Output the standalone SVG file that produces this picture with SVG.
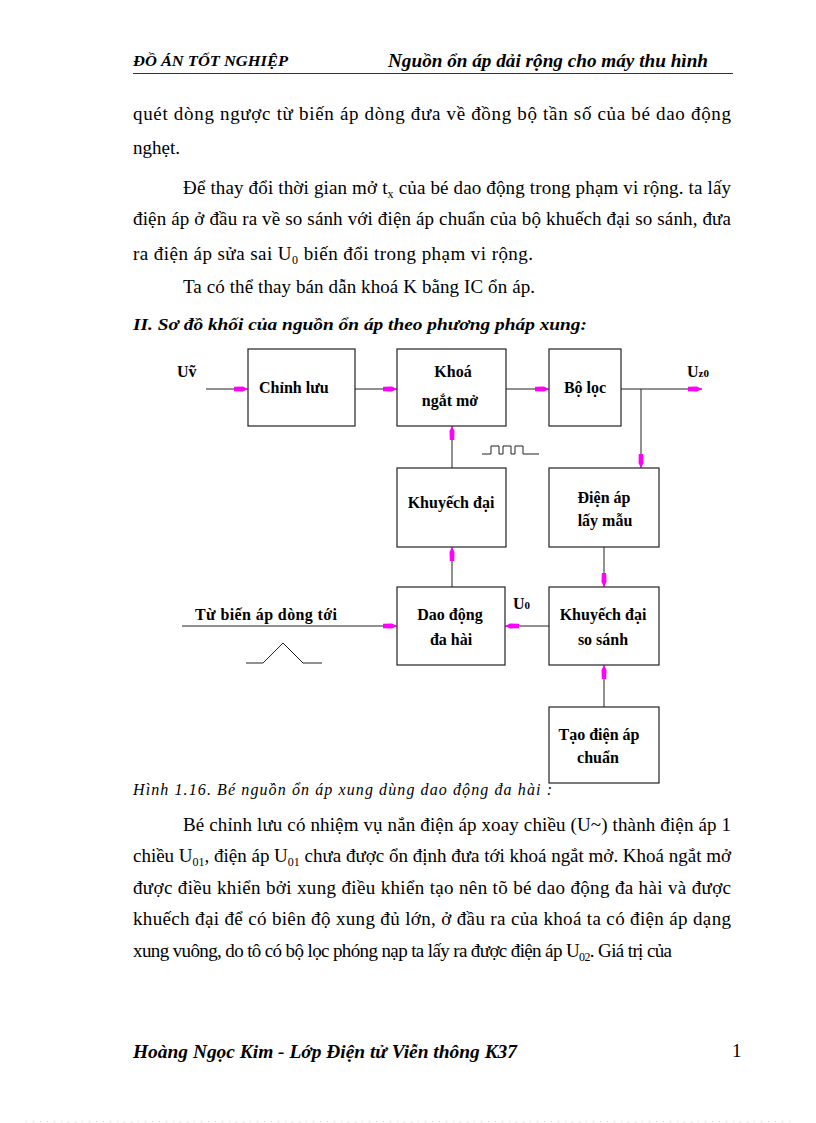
<svg xmlns="http://www.w3.org/2000/svg" width="816" height="1123" viewBox="0 0 816 1123">
<style>
.t{font-family:"Liberation Serif","Times New Roman",serif;fill:#000}
.b{font-size:19px}
.s{font-size:12px}
.hd{font-size:14px;font-style:italic;font-weight:bold}
.hr{font-size:18px;font-style:italic;font-weight:bold}
.h2{font-size:17px;font-style:italic;font-weight:bold}
.cap{font-size:16px;font-style:italic}
.ft{font-size:18px;font-style:italic;font-weight:bold}
.lb{font-size:16px;font-weight:bold}
.box{fill:#fff;stroke:#222;stroke-width:1.2}
.ln{stroke:#222;stroke-width:1;fill:none}
.ar{stroke:#222;stroke-width:1;fill:none;marker-end:url(#ah)}
</style>
<defs>
<marker id="ah" markerUnits="userSpaceOnUse" markerWidth="16" markerHeight="8" refX="14" refY="4" orient="auto">
<path d="M0,1.8 L9,1.5 L14,4 L9,6.5 L0,6.2 Z" fill="#ff00ff"/>
</marker>
</defs>
<rect width="816" height="1123" fill="#fff"/>

<!-- header -->
<text class="t hd" x="133" y="66" textLength="155" lengthAdjust="spacingAndGlyphs">ĐỒ ÁN TỐT NGHIỆP</text>
<text class="t hr" x="388" y="67" textLength="320" lengthAdjust="spacingAndGlyphs">Nguồn ổn áp dải rộng cho máy thu hình</text>
<line x1="133" y1="73.5" x2="733" y2="73.5" stroke="#333" stroke-width="1.2"/>

<!-- paragraph 1 -->
<text class="t b" x="133" y="120" textLength="598" lengthAdjust="spacing">quét dòng ngược từ biến áp dòng đưa về đồng bộ tần số của bé dao động</text>
<text class="t b" x="133" y="154">nghẹt.</text>
<text class="t b" x="183" y="194" textLength="548" lengthAdjust="spacing">Để thay đổi thời gian mở t<tspan class="s" dy="4">x</tspan><tspan dy="-4"> của bé dao động trong phạm vi rộng. ta lấy</tspan></text>
<text class="t b" x="133" y="225" textLength="598" lengthAdjust="spacing">điện áp ở đầu ra về so sánh với điện áp chuẩn của bộ khuếch đại so sánh, đưa</text>
<text class="t b" x="133" y="260" textLength="400" lengthAdjust="spacing">ra điện áp sửa sai U<tspan class="s" dy="4">0</tspan><tspan dy="-4"> biến đổi trong phạm vi rộng.</tspan></text>
<text class="t b" x="183" y="293" textLength="352" lengthAdjust="spacing">Ta có thể thay bán dẫn khoá K bằng IC ổn áp.</text>

<text class="t h2" x="133" y="330" textLength="454" lengthAdjust="spacingAndGlyphs">II. Sơ đồ khối của nguồn ổn áp theo phương pháp xung:</text>

<!-- diagram nodes -->
<g id="chinh-luu"><rect class="box" x="248" y="349" width="107" height="77"/><text class="t lb" x="259" y="393">Chỉnh lưu</text></g>
<g id="khoa"><rect class="box" x="397" y="349" width="109" height="77"/><text class="t lb" x="453" y="377" text-anchor="middle">Khoá</text><text class="t lb" x="450" y="406" text-anchor="middle">ngắt mở</text></g>
<g id="bo-loc"><rect class="box" x="549" y="349" width="72" height="77"/><text class="t lb" x="585" y="393" text-anchor="middle">Bộ lọc</text></g>
<g id="khuyech-dai"><rect class="box" x="397" y="468" width="109" height="79"/><text class="t lb" x="451" y="508" text-anchor="middle">Khuyếch đại</text></g>
<g id="dien-ap-lay-mau"><rect class="box" x="549" y="468" width="110" height="79"/><text class="t lb" x="604" y="503" text-anchor="middle">Điện áp</text><text class="t lb" x="605" y="526" text-anchor="middle">lấy mẫu</text></g>
<g id="dao-dong"><rect class="box" x="397" y="587" width="108" height="78"/><text class="t lb" x="450" y="620" text-anchor="middle">Dao động</text><text class="t lb" x="451" y="645" text-anchor="middle">đa hài</text></g>
<g id="khuyech-dai-so-sanh"><rect class="box" x="549" y="587" width="110" height="78"/><text class="t lb" x="603" y="620" text-anchor="middle">Khuyếch đại</text><text class="t lb" x="603" y="645" text-anchor="middle">so sánh</text></g>
<g id="tao-dien-ap-chuan"><rect class="box" x="549" y="707" width="110" height="76"/><text class="t lb" x="599" y="740" text-anchor="middle">Tạo điện áp</text><text class="t lb" x="598" y="763" text-anchor="middle">chuẩn</text></g>

<!-- labels -->
<g id="labels">
<text class="t lb" x="177" y="377">Uṽ</text>
<text class="t lb" x="687" y="377">U<tspan font-size="11">z0</tspan></text>
<text class="t lb" x="513" y="609">U<tspan font-size="11">0</tspan></text>
<text class="t lb" x="195" y="620" textLength="142" lengthAdjust="spacing">Từ biến áp dòng tới</text>
</g>

<!-- connectors -->
<g id="connectors">
<line class="ar" x1="206" y1="389" x2="248" y2="389"/>
<line class="ar" x1="355" y1="389" x2="397" y2="389"/>
<line class="ar" x1="506" y1="389" x2="549" y2="389"/>
<line class="ar" x1="621" y1="389" x2="702" y2="389"/>
<line class="ar" x1="641" y1="389" x2="641" y2="468"/>
<line class="ar" x1="452" y1="468" x2="452" y2="426"/>
<line class="ar" x1="604" y1="547" x2="604" y2="587"/>
<line class="ar" x1="452" y1="587" x2="452" y2="547"/>
<line class="ar" x1="182" y1="626" x2="397" y2="626"/>
<line class="ar" x1="549" y1="626" x2="505" y2="626"/>
<line class="ar" x1="604" y1="707" x2="604" y2="665"/>
<polyline class="ln" points="482,454 491,454 491,446 499,446 499,454 503,454 503,446 511,446 511,454 515,454 515,446 523,446 523,454 539,454"/>
<polyline class="ln" points="246,663 263,663 283,643 303,663 322,663"/>
</g>

<text class="t cap" x="133" y="795" textLength="419" lengthAdjust="spacing">Hình  1.16. Bé nguồn  ổn áp xung dùng dao động đa hài :</text>

<!-- paragraph 2 -->
<text class="t b" x="183" y="831" textLength="548" lengthAdjust="spacing">Bé chỉnh lưu có nhiệm vụ nắn điện áp xoay chiều (U~) thành điện áp 1</text>
<text class="t b" x="133" y="862" textLength="598" lengthAdjust="spacing">chiều U<tspan class="s" dy="4">01</tspan><tspan dy="-4">, điện áp U</tspan><tspan class="s" dy="4">01</tspan><tspan dy="-4"> chưa được ổn định đưa tới khoá ngắt mở. Khoá ngắt mở</tspan></text>
<text class="t b" x="133" y="894" textLength="598" lengthAdjust="spacing">được điều khiển bởi xung điều khiển tạo nên tõ bé dao động đa hài và được</text>
<text class="t b" x="133" y="925" textLength="598" lengthAdjust="spacing">khuếch đại để có biên độ xung đủ lớn, ở đầu ra của khoá ta có điện áp dạng</text>
<text class="t b" x="133" y="957" textLength="539" lengthAdjust="spacing">xung vuông, do tô có bộ lọc phóng nạp ta lấy ra được điện áp U<tspan class="s" dy="4">02</tspan><tspan dy="-4">. Giá trị của</tspan></text>

<!-- footer -->
<text class="t ft" x="133" y="1058" textLength="384" lengthAdjust="spacingAndGlyphs">Hoàng Ngọc Kim - Lớp Điện tử Viễn thông K37</text>
<text class="t b" x="732" y="1057" font-size="16">1</text>
<line x1="26" y1="1121.5" x2="795" y2="1121.5" stroke="#d8c8d8" stroke-width="1" stroke-dasharray="1,6"/>
</svg>
